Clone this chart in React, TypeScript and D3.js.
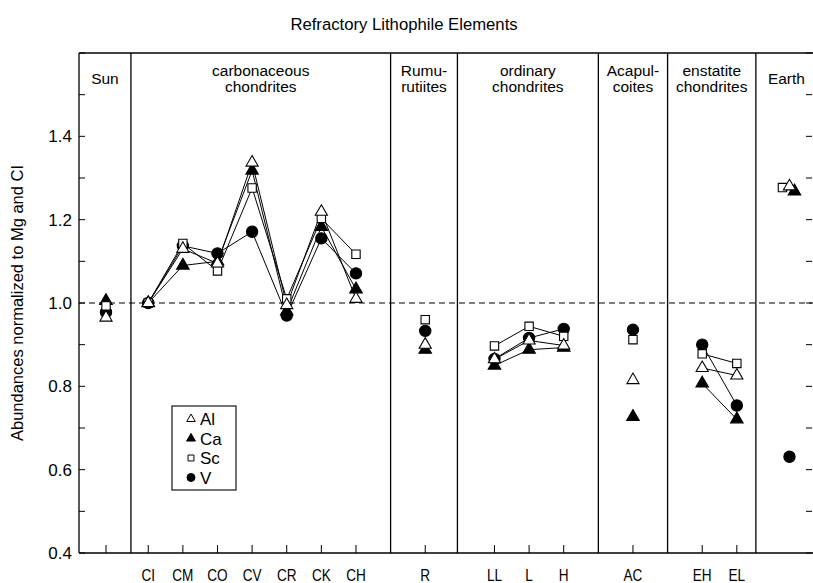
import React from "react";
import { scaleLinear, symbol, symbolTriangle, symbolSquare, symbolCircle, range } from "d3";

// meteorite classes and where they sit along the x axis (slot units)
const categories = ["Sun", "CI", "CM", "CO", "CV", "CR", "CK", "CH", "R", "LL", "L", "H", "AC", "EH", "EL", "Earth"];
const slots = [0.78, 2, 3, 4, 5, 6, 7, 8, 10, 12, 13, 14, 16, 18, 19, 20.52];
const tickLabels = ["", "CI", "CM", "CO", "CV", "CR", "CK", "CH", "R", "LL", "L", "H", "AC", "EH", "EL", null];

// abundances normalized to Mg and CI
const al = [0.965, 1.0, 1.13, 1.095, 1.337, 0.995, 1.219, 1.01, 0.9, 0.865, 0.91, 0.898, 0.815, 0.844, 0.826, 1.28];
const ca = [1.005, 1.0, 1.09, 1.1, 1.318, 0.98, 1.183, 1.033, 0.888, 0.85, 0.888, 0.893, 0.727, 0.807, 0.721, 1.268];
const sc = [0.993, 1.0, 1.143, 1.077, 1.276, 1.01, 1.203, 1.117, 0.96, 0.897, 0.944, 0.92, 0.912, 0.878, 0.855, 1.277];
const v = [0.978, 1.0, 1.137, 1.119, 1.171, 0.97, 1.155, 1.071, 0.933, 0.866, 0.916, 0.938, 0.936, 0.9, 0.754, 0.631];

// connected groups (indices into categories)
const connected = [[1, 2, 3, 4, 5, 6, 7], [9, 10, 11], [13, 14]];

const panelBounds = [1.5, 9, 10.93, 15, 17, 19.55];
const panelHeads = [
  ["Sun"],
  ["carbonaceous", "chondrites"],
  ["Rumu-", "rutiites"],
  ["ordinary", "chondrites"],
  ["Acapul-", "coites"],
  ["enstatite", "chondrites"],
  ["Earth"],
];
const yTicks = [0.4, 0.6, 0.8, 1.0, 1.2, 1.4];

const W = 813;
const H = 583;
const L = 79;
const R = 813;
const T = 53;
const B = 553;

const FONT = "'Liberation Sans', Arial, Helvetica, sans-serif";

const x = scaleLinear().domain([0, 21.2]).range([L, R]);
const y = scaleLinear().domain([0.4, 1.6]).range([B, T]);

const series = [
  { name: "V", values: v, type: symbolCircle, size: 100, fill: "#000", earthDx: 0 },
  { name: "Ca", values: ca, type: symbolTriangle, size: 68, fill: "#000", earthDx: 5 },
  { name: "Sc", values: sc, type: symbolSquare, size: 70, fill: "#fff", earthDx: -7 },
  { name: "Al", values: al, type: symbolTriangle, size: 64, fill: "#fff", earthDx: 0 },
];
const legendOrder = ["Al", "Ca", "Sc", "V"];

const App = () => {
  const edges = [L, ...panelBounds.map((b) => x(b)), R];
  const minor = range(0.4, 1.6001, 0.1);

  return (
    <svg width={W} height={H} style={{ position: "absolute", left: 0, top: 0, background: "#fff" }} fontFamily={FONT}>
      <text x={404} y={30} fontSize={16.7} textAnchor="middle">
        Refractory Lithophile Elements
      </text>

      {/* frame */}
      <line x1={L} x2={R} y1={T} y2={T} stroke="#000" strokeWidth={1.3} />
      <line x1={L} x2={R} y1={B} y2={B} stroke="#000" strokeWidth={1.3} />
      <line x1={L} x2={L} y1={T} y2={B} stroke="#000" strokeWidth={1.3} />
      {panelBounds.map((b, i) => (
        <line key={i} x1={x(b)} x2={x(b)} y1={T} y2={B} stroke="#000" strokeWidth={1.3} />
      ))}

      {/* panel heads */}
      {panelHeads.map((lines, i) => {
        const cx = (edges[i] + edges[i + 1]) / 2 + (i === 6 ? 2 : 0);
        const y0 = lines.length === 1 ? 84 : 76;
        return (
          <text key={i} x={cx} y={y0} fontSize={15.5} textAnchor="middle">
            {lines.map((s, j) => (
              <tspan key={j} x={cx} dy={j === 0 ? 0 : 16}>
                {s}
              </tspan>
            ))}
          </text>
        );
      })}

      {/* y ticks */}
      {minor.map((t, i) => (
        <g key={i}>
          <line x1={L} x2={L + 6} y1={y(t)} y2={y(t)} stroke="#000" strokeWidth={1} />
          <line x1={R - 1} x2={R - 7} y1={y(t)} y2={y(t)} stroke="#000" strokeWidth={1} />
        </g>
      ))}
      {yTicks.map((t) => (
        <text key={t} x={L - 7} y={y(t) + 6} fontSize={17} textAnchor="end">
          {t.toFixed(1)}
        </text>
      ))}
      <text
        transform={`translate(23, ${(T + B) / 2}) rotate(-90)`}
        fontSize={16.5}
        textAnchor="middle"
      >
        Abundances normalized to Mg and CI
      </text>

      {/* x ticks */}
      {categories.map((c, i) =>
        tickLabels[i] === null ? null : (
          <g key={c}>
            <line x1={x(slots[i])} x2={x(slots[i])} y1={B} y2={B - 8} stroke="#000" strokeWidth={1} />
            <text
              x={x(slots[i])}
              y={B + 28}
              fontSize={17}
              textAnchor="middle"
              transform={`translate(${x(slots[i])},0) scale(0.8,1) translate(${-x(slots[i])},0)`}
            >
              {tickLabels[i]}
            </text>
          </g>
        )
      )}

      {/* 1.0 reference */}
      <line x1={L} x2={R} y1={y(1)} y2={y(1)} stroke="#000" strokeWidth={1.2} strokeDasharray="6,4" />

      {/* connecting lines */}
      {series.map((s) =>
        connected.map((g, gi) => (
          <path
            key={s.name + gi}
            d={"M" + g.map((i) => `${x(slots[i])},${y(s.values[i])}`).join("L")}
            fill="none"
            stroke="#000"
            strokeWidth={1}
          />
        ))
      )}

      {/* markers */}
      {series.map((s) =>
        s.values.map((val, i) => {
          const dx = categories[i] === "Earth" ? s.earthDx : 0;
          return (
            <path
              key={s.name + i}
              d={symbol(s.type, s.size)() || ""}
              transform={`translate(${x(slots[i]) + dx},${y(val)})`}
              fill={s.fill}
              stroke="#000"
              strokeWidth={1.1}
            />
          );
        })
      )}

      {/* legend */}
      <rect x={172} y={406} width={64} height={84} fill="#fff" stroke="#000" strokeWidth={1.1} />
      {legendOrder.map((n, i) => {
        const s = series.find((d) => d.name === n)!;
        const ly = 419 + i * 19.5;
        return (
          <g key={n}>
            <path
              d={symbol(s.type, s.size * 0.5)() || ""}
              transform={`translate(191,${ly})`}
              fill={s.fill}
              stroke="#000"
              strokeWidth={1}
            />
            <text x={200} y={ly + 6} fontSize={17}>
              {n}
            </text>
          </g>
        );
      })}
    </svg>
  );
};

export default App;
